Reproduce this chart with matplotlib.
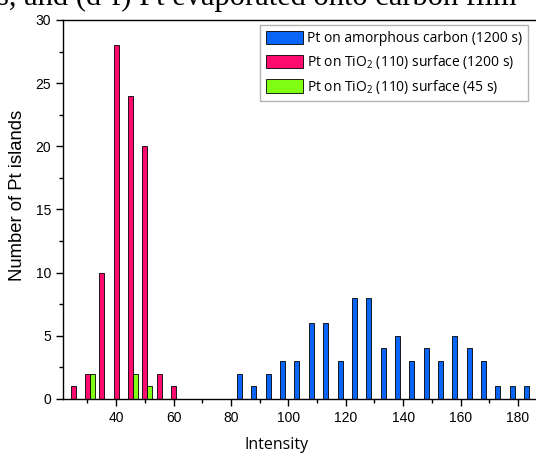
import matplotlib
matplotlib.use("Agg")
import matplotlib.pyplot as plt
from matplotlib.ticker import MultipleLocator
import numpy as np

# data
carbon_x = [83, 88, 93, 98, 103, 108, 113, 118, 123, 128, 133, 138, 143, 148, 153, 158, 163, 168, 173, 178, 183]
carbon_y = [2, 1, 2, 3, 3, 6, 6, 3, 8, 8, 4, 5, 3, 4, 3, 5, 4, 3, 1, 1, 1]
tio2_long_x = [25, 30, 35, 40, 45, 50, 55, 60]
tio2_long_y = [1, 2, 10, 28, 24, 20, 2, 1]
tio2_short_x = [30, 45, 50]
tio2_short_y = [2, 2, 1]
labels = ["Pt on amorphous carbon (1200 s)",
          "Pt on TiO$_2$ (110) surface (1200 s)",
          "Pt on TiO$_2$ (110) surface (45 s)"]
colors = ["#0A64F5", "#FF0A6E", "#80FF14"]

plt.rcParams['font.family'] = ['Open Sans', 'DejaVu Sans']
plt.rcParams['mathtext.fontset'] = 'custom'
plt.rcParams['mathtext.rm'] = 'Open Sans'
plt.rcParams['mathtext.it'] = 'Open Sans'

W, H = 536, 453
fig = plt.figure(figsize=(W / 100, H / 100), dpi=100)

left_px, right_px, top_px, bot_px = 63, 541, 20, 399
ax = fig.add_axes([left_px / W, 1 - bot_px / H, (right_px - left_px) / W, (bot_px - top_px) / H])

bw = 1.75
ax.bar(carbon_x, carbon_y, width=bw, color=colors[0], edgecolor='black', linewidth=0.6, label=labels[0])
ax.bar(tio2_long_x, tio2_long_y, width=bw, color=colors[1], edgecolor='black', linewidth=0.6, label=labels[1])
ax.bar(np.array(tio2_short_x) + bw, tio2_short_y, width=bw, color=colors[2], edgecolor='black', linewidth=0.6, label=labels[2])

ax.set_xlim(21.5, 188)
ax.set_ylim(0, 30)
ax.xaxis.set_major_locator(MultipleLocator(20))
ax.xaxis.set_minor_locator(MultipleLocator(10))
ax.yaxis.set_major_locator(MultipleLocator(5))
ax.yaxis.set_minor_locator(MultipleLocator(2.5))
ax.tick_params(which='major', direction='out', length=5, width=1, labelsize=10)
ax.tick_params(which='minor', direction='out', length=3, width=1)
for lab in ax.get_xticklabels() + ax.get_yticklabels():
    lab.set_family(['Liberation Sans'])
for sp in ax.spines.values():
    sp.set_linewidth(1.0)

ax.set_xlabel("Intensity", fontsize=11.5)
ax.xaxis.set_label_coords((277 - left_px) / (right_px - left_px), -(445 - bot_px) / (bot_px - top_px))
ax.xaxis.label.set_va('center')
ax.set_ylabel("Number of Pt islands", fontsize=13.3, family=['Liberation Sans'])
ax.yaxis.set_label_coords(-(left_px - 18) / (right_px - left_px), (bot_px - 195) / (bot_px - top_px))
ax.yaxis.label.set_va('center')

leg = ax.legend(loc='upper right', bbox_to_anchor=(528 / W, 1 - 25 / H), bbox_transform=fig.transFigure,
                fontsize=10, frameon=True, fancybox=False, edgecolor='#a0a0a0',
                handlelength=2.7, handleheight=1.1, handletextpad=0.3, labelspacing=0.5,
                borderpad=0.4, borderaxespad=0)
leg.get_frame().set_linewidth(1.0)

fig.text(-3 / W, 1 - 5 / H, "s, and (d-f) Pt evaporated onto carbon film", family=['Liberation Serif'],
         fontsize=22, ha='left', va='baseline')

fig.savefig("out.png", dpi=100)
